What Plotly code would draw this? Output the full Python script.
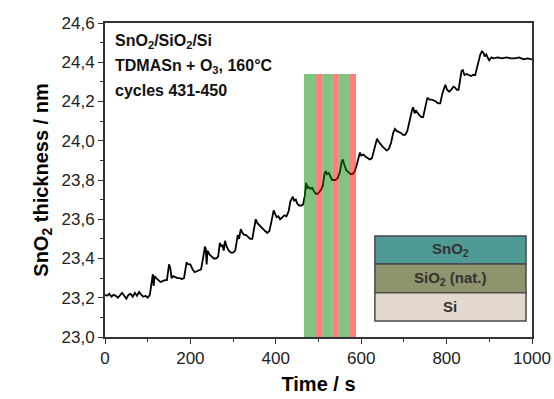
import plotly.graph_objects as go

# ---------------- data ----------------
time_s = [
    0, 5, 10, 15, 20, 25, 30, 35, 40, 45, 50, 55, 60, 65, 70, 75, 80, 85, 90, 95, 100, 105,
    110, 112, 114, 116, 120, 125, 130, 135, 140, 145,
    148, 150, 153, 156, 160, 165, 170, 175, 180, 185,
    188, 191, 195, 200, 205, 210, 215, 220, 225,
    231, 234, 236, 238, 240, 245, 250, 255, 260, 265,
    269, 272, 275, 278, 281, 285, 290, 295, 300, 305,
    311, 314, 318, 322, 326, 330, 335, 340, 345,
    350, 353, 357, 361, 366, 370, 375, 380, 385, 389,
    392, 395, 398, 402, 406, 410, 415, 420, 425, 430,
    434, 437, 440, 443, 447, 450, 455, 460, 464,
    468, 471, 474, 477, 481, 485, 490, 494, 498, 502, 506, 510,
    514, 517, 520, 524, 528, 532, 536, 540, 545, 550,
    554, 557, 560, 565, 570, 575, 580, 585, 590,
    594, 597, 600, 605, 610, 615, 620, 625, 630,
    634, 637, 641, 646, 650, 655, 660, 665, 670,
    675, 679, 683, 688, 693, 698, 703, 708, 713,
    717, 720, 722, 725, 728, 732, 736, 741, 745, 749,
    752, 755, 760, 765, 770, 775, 780, 785, 790,
    794, 797, 801, 806, 811, 816, 820, 824, 828, 832,
    835, 838, 842, 847, 852, 857, 862, 867, 871,
    875, 879, 883, 886, 889, 893, 897, 900, 905, 910, 920, 930, 940, 950, 960, 970, 980, 990, 1000,
]
thickness_nm = [
    23.215, 23.21, 23.22, 23.205, 23.215, 23.21, 23.20, 23.215, 23.225, 23.21, 23.195, 23.215, 23.22, 23.205, 23.225, 23.21, 23.23, 23.215, 23.205, 23.21, 23.20, 23.215,
    23.29, 23.32, 23.26, 23.31, 23.30, 23.29, 23.28, 23.285, 23.29, 23.29,
    23.33, 23.37, 23.35, 23.30, 23.31, 23.305, 23.30, 23.30, 23.295, 23.30,
    23.35, 23.38, 23.37, 23.37, 23.345, 23.33, 23.335, 23.34, 23.345,
    23.42, 23.46, 23.45, 23.37, 23.44, 23.42, 23.41, 23.40, 23.40, 23.41,
    23.48, 23.46, 23.47, 23.44, 23.49, 23.46, 23.44, 23.43, 23.43, 23.44,
    23.52, 23.50, 23.55, 23.53, 23.52, 23.52, 23.51, 23.50, 23.50,
    23.57, 23.60, 23.58, 23.57, 23.56, 23.55, 23.54, 23.53, 23.54, 23.58,
    23.62, 23.645, 23.63, 23.61, 23.615, 23.60, 23.61, 23.62, 23.615, 23.64,
    23.69, 23.70, 23.715, 23.695, 23.70, 23.68, 23.67, 23.67, 23.675,
    23.72, 23.785, 23.76, 23.765, 23.755, 23.76, 23.74, 23.73, 23.73, 23.74, 23.75, 23.77,
    23.83, 23.845, 23.83, 23.835, 23.82, 23.80, 23.80, 23.80, 23.81, 23.84,
    23.89, 23.905, 23.88, 23.85, 23.84, 23.83, 23.83, 23.845, 23.88,
    23.92, 23.94, 23.925, 23.93, 23.92, 23.91, 23.905, 23.91, 23.95,
    23.99, 24.01, 23.995, 23.98, 23.97, 23.96, 23.95, 23.96, 23.99,
    24.04, 24.06, 24.05, 24.045, 24.04, 24.03, 24.03, 24.05, 24.10,
    24.14, 24.165, 24.17, 24.14, 24.155, 24.14, 24.13, 24.12, 24.12, 24.16,
    24.20, 24.22, 24.21, 24.21, 24.205, 24.20, 24.19, 24.19, 24.24,
    24.27, 24.285, 24.26, 24.25, 24.26, 24.275, 24.27, 24.26, 24.26, 24.32,
    24.355, 24.36, 24.335, 24.34, 24.335, 24.33, 24.335, 24.335, 24.37,
    24.41, 24.44, 24.455, 24.45, 24.43, 24.44, 24.42, 24.41, 24.425, 24.42, 24.425, 24.42, 24.425, 24.42, 24.42, 24.425, 24.415, 24.42, 24.415,
]

# pulse bands (TDMASn = green, O3 = red), start/end in s
band_start = [466, 492, 509, 533, 547, 571]
band_end = [492, 509, 533, 547, 571, 588]
band_kind = ["TDMASn", "O3", "TDMASn", "O3", "TDMASn", "O3"]

x_ticks = [0, 200, 400, 600, 800, 1000]
x_ticktext = ["0", "200", "400", "600", "800", "1000"]
y_ticks = [23.0, 23.2, 23.4, 23.6, 23.8, 24.0, 24.2, 24.4, 24.6]
y_ticktext = ["23,0", "23,2", "23,4", "23,6", "23,8", "24,0", "24,2", "24,4", "24,6"]

layer_names = ["SnO<sub>2</sub>", "SiO<sub>2</sub> (nat.)", "Si"]
info_lines = ["SnO<sub>2</sub>/SiO<sub>2</sub>/Si", "TDMASn + O<sub>3</sub>, 160°C", "cycles 431-450"]

# ---------------- styling ----------------
FONT = "Arial, Liberation Sans, sans-serif"
band_colors = {"TDMASn": "rgba(0,140,0,0.5)", "O3": "rgba(255,0,0,0.5)"}
layer_colors = ["#4f9a95", "#8f946f", "#e2d9cc"]
BAND_TOP = 24.34

fig = go.Figure()
fig.add_trace(go.Scatter(x=time_s, y=thickness_nm, mode="lines",
                         line=dict(color="black", width=1.8), showlegend=False,
                         hoverinfo="skip"))

shapes = []
for s, e, k in zip(band_start, band_end, band_kind):
    shapes.append(dict(type="rect", xref="x", yref="y", x0=s, x1=e, y0=23.0, y1=BAND_TOP,
                       fillcolor=band_colors[k], line=dict(width=0), layer="above"))

# layer stack inset (paper coordinates)
px0, px1 = 0.632, 0.986
py = [0.322, 0.2325, 0.141, 0.051]  # top boundaries of each layer, then bottom
annotations = []
for i, name in enumerate(layer_names):
    shapes.append(dict(type="rect", xref="paper", yref="paper", x0=px0, x1=px1,
                       y0=py[i + 1], y1=py[i], fillcolor=layer_colors[i],
                       line=dict(color="#4a4a4a", width=1.5), layer="above"))
    annotations.append(dict(xref="paper", yref="paper", x=(px0 + px1) / 2,
                            y=(py[i] + py[i + 1]) / 2, text=name, showarrow=False,
                            font=dict(family=FONT, size=15, color="#333333", weight="bold"),
                            xanchor="center", yanchor="middle"))

info_y = [0.94, 0.862, 0.786]
for t, yy in zip(info_lines, info_y):
    annotations.append(dict(xref="paper", yref="paper", x=0.018, y=yy, text=t,
                            showarrow=False, xanchor="left", yanchor="middle",
                            font=dict(family=FONT, size=16, color="#111111", weight="bold")))

fig.update_layout(
    width=554, height=399,
    margin=dict(l=105, r=22, t=23, b=62),
    paper_bgcolor="white", plot_bgcolor="white",
    font=dict(family=FONT, size=17, color="black"),
    shapes=shapes, annotations=annotations, showlegend=False,
)
axis_common = dict(showline=True, linecolor="#333333", linewidth=1.8, mirror=True,
                   showgrid=False, zeroline=False, ticks="outside", ticklen=5,
                   tickwidth=1.3, tickcolor="#333333", automargin=False,
                   tickfont=dict(family=FONT, size=17, color="#222222"))
fig.update_xaxes(range=[0, 1000], tickvals=x_ticks, ticktext=x_ticktext,
                 minor=dict(ticks="outside", ticklen=3, dtick=100, tickcolor="#333333"),
                 title=dict(text="Time / s", standoff=10,
                            font=dict(family=FONT, size=20, color="black", weight="bold")),
                 **axis_common)
fig.update_yaxes(range=[23.0, 24.6], tickvals=y_ticks, ticktext=y_ticktext,
                 minor=dict(ticks="outside", ticklen=3, dtick=0.1, tickcolor="#333333"),
                 title=dict(text="SnO<sub>2</sub> thickness / nm", standoff=8,
                            font=dict(family=FONT, size=20, color="black", weight="bold")),
                 **axis_common)

fig.write_html("out.html", config={"displayModeBar": False},
               post_script="document.body.style.margin='0px';")
